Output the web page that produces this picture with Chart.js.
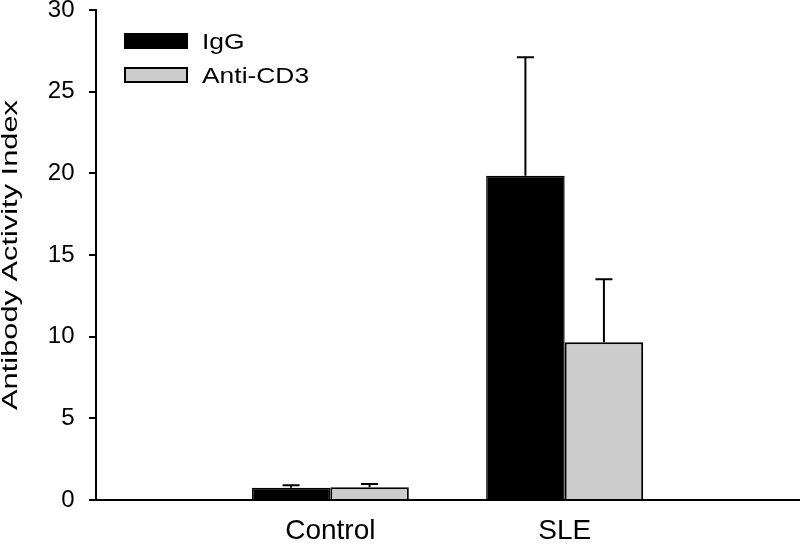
<!DOCTYPE html>
<html>
<head>
<meta charset="utf-8">
<script src="https://cdn.jsdelivr.net/npm/chart.js@4/dist/chart.umd.min.js"></script>
<style>
  html, body { margin: 0; padding: 0; background: #ffffff; }
  #wrap { width: 800px; height: 544px; }
</style>
</head>
<body>
<div id="wrap"><canvas id="c" width="800" height="544"></canvas></div>
<script>
// ---- data ----
const categories = ['', 'Control', 'SLE', ''];
const seriesNames = ['IgG', 'Anti-CD3'];
const igG = [null, 0.75, 19.85, null];
const igGErr = [null, 0.15, 7.25, null];
const antiCD3 = [null, 0.78, 9.66, null];
const antiCD3Err = [null, 0.2, 3.85, null];
const yMin = 0, yMax = 30, yStep = 5;
const yTitle = 'Antibody Activity Index';

const FONT = '"Liberation Sans", Arial, sans-serif';

const errorBars = {
  id: 'errorBars',
  afterDatasetsDraw(chart) {
    const ctx = chart.ctx;
    const y = chart.scales.y;
    chart.data.datasets.forEach((ds, di) => {
      const meta = chart.getDatasetMeta(di);
      meta.data.forEach((bar, i) => {
        const v = ds.data[i], e = ds.errors[i];
        if (v == null || e == null) return;
        const top = y.getPixelForValue(v + e);
        const base = y.getPixelForValue(v);
        ctx.save();
        ctx.strokeStyle = '#000';
        ctx.lineWidth = 2;
        ctx.beginPath();
        ctx.moveTo(bar.x, base);
        ctx.lineTo(bar.x, top);
        ctx.moveTo(bar.x - 8.5, top);
        ctx.lineTo(bar.x + 8.5, top);
        ctx.stroke();
        ctx.restore();
      });
    });
  }
};

// legend and y-axis title drawn as real canvas text with the wide lettering of the original
const textDecor = {
  id: 'textDecor',
  afterDraw(chart) {
    const ctx = chart.ctx;
    const area = chart.chartArea;
    ctx.save();
    ctx.font = '22px ' + FONT;
    ctx.textBaseline = 'alphabetic';
    ctx.textAlign = 'left';
    chart.data.datasets.forEach((ds, i) => {
      const top = area.top + 23 + i * 34;
      const x = area.left + 28;
      ctx.fillStyle = ds.backgroundColor;
      ctx.fillRect(x, top, 64, 16);
      ctx.strokeStyle = '#000';
      ctx.lineWidth = 2;
      ctx.strokeRect(x + 1, top + 1, 62, 14);
      ctx.save();
      ctx.translate(x + 78, top + 15.5);
      ctx.scale(1.2, 1);
      ctx.fillStyle = '#000';
      ctx.fillText(ds.label, 0, 0);
      ctx.restore();
    });
    // y-axis title
    ctx.save();
    ctx.translate(17, (area.top + area.bottom) / 2);
    ctx.rotate(-Math.PI / 2);
    ctx.scale(1.4, 1);
    ctx.textAlign = 'center';
    ctx.fillStyle = '#000';
    ctx.fillText(yTitle, 0, 0);
    ctx.restore();
    ctx.restore();
  }
};

new Chart(document.getElementById('c'), {
  type: 'bar',
  data: {
    labels: categories,
    datasets: [
      { label: seriesNames[0], data: igG, errors: igGErr,
        backgroundColor: '#000000', borderColor: '#000000', borderWidth: 1.5 },
      { label: seriesNames[1], data: antiCD3, errors: antiCD3Err,
        backgroundColor: '#cdcdcd', borderColor: '#000000', borderWidth: 2 }
    ]
  },
  options: {
    responsive: false,
    animation: false,
    layout: { padding: { left: 0, right: 1, top: 0, bottom: 0 } },
    datasets: { bar: { categoryPercentage: 0.67, barPercentage: 1.0 } },
    plugins: { legend: { display: false }, tooltip: { enabled: false } },
    scales: {
      x: {
        offset: false,
        grid: { display: false, drawTicks: false },
        border: { display: true, color: '#000', width: 2 },
        ticks: { color: '#000', font: { family: FONT, size: 28 }, padding: 14, maxRotation: 0, autoSkip: false },
        afterFit(s) { s.height = 44; s.paddingLeft = 0; s.paddingRight = 0; }
      },
      y: {
        min: yMin, max: yMax,
        grid: { display: true, drawOnChartArea: false, drawTicks: true, tickLength: 7, color: '#000', lineWidth: 2 },
        border: { display: true, color: '#000', width: 2 },
        ticks: { stepSize: yStep, color: '#000', font: { family: FONT, size: 24 }, padding: 14.5 },
        title: { display: false, text: yTitle },
        afterFit(s) { s.width = 96; s.paddingTop = 10; s.paddingBottom = 0; }
      }
    }
  },
  plugins: [errorBars, textDecor]
});
</script>
</body>
</html>
